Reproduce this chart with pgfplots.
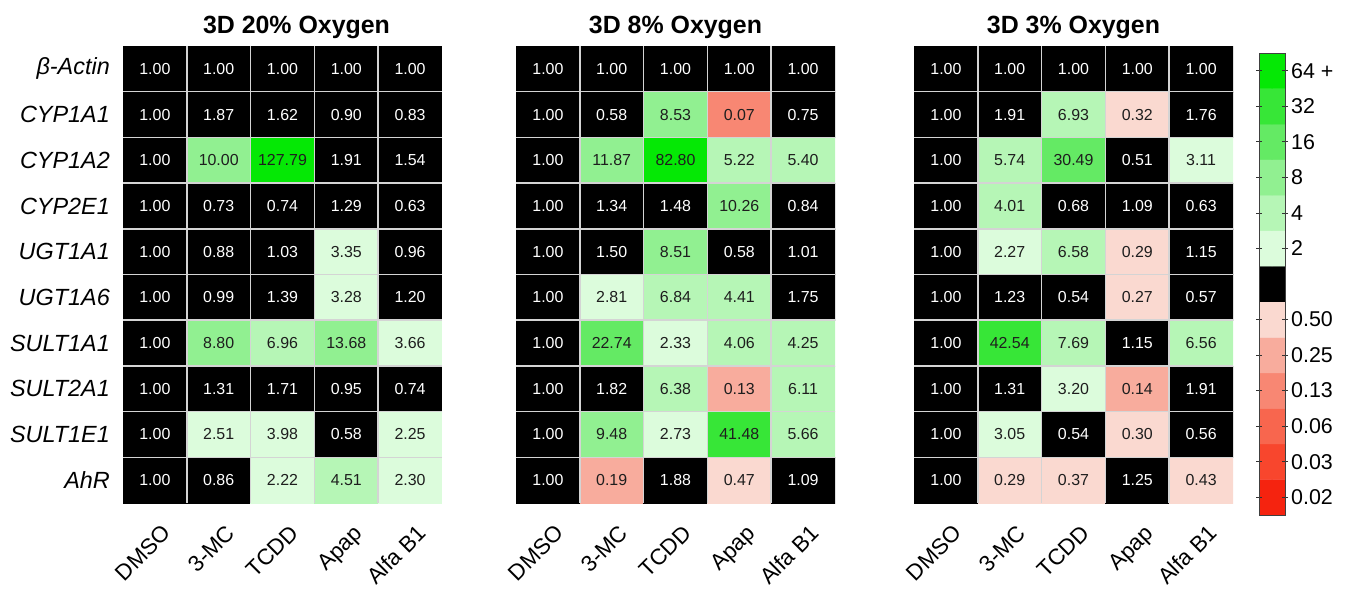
\documentclass[border=0pt]{standalone}
\usepackage{pgfplots}
\pgfplotsset{compat=1.18}
\usepackage{pgfplotstable}
\usepackage{fontspec}
\setmainfont{Liberation Sans}
\definecolor{gridc}{RGB}{212,212,212}
\definecolor{txtd}{RGB}{30,30,30}

% x = treatment (0 DMSO,1 3-MC,2 TCDD,3 Apap,4 Alfa B1), y = gene row (0 = beta-Actin ... 9 = AhR)
\pgfplotstableread{
x y v
0 0 1.00
1 0 1.00
2 0 1.00
3 0 1.00
4 0 1.00
0 1 1.00
1 1 1.87
2 1 1.62
3 1 0.90
4 1 0.83
0 2 1.00
1 2 10.00
2 2 127.79
3 2 1.91
4 2 1.54
0 3 1.00
1 3 0.73
2 3 0.74
3 3 1.29
4 3 0.63
0 4 1.00
1 4 0.88
2 4 1.03
3 4 3.35
4 4 0.96
0 5 1.00
1 5 0.99
2 5 1.39
3 5 3.28
4 5 1.20
0 6 1.00
1 6 8.80
2 6 6.96
3 6 13.68
4 6 3.66
0 7 1.00
1 7 1.31
2 7 1.71
3 7 0.95
4 7 0.74
0 8 1.00
1 8 2.51
2 8 3.98
3 8 0.58
4 8 2.25
0 9 1.00
1 9 0.86
2 9 2.22
3 9 4.51
4 9 2.30
}\dA

\pgfplotstableread{
x y v
0 0 1.00
1 0 1.00
2 0 1.00
3 0 1.00
4 0 1.00
0 1 1.00
1 1 0.58
2 1 8.53
3 1 0.07
4 1 0.75
0 2 1.00
1 2 11.87
2 2 82.80
3 2 5.22
4 2 5.40
0 3 1.00
1 3 1.34
2 3 1.48
3 3 10.26
4 3 0.84
0 4 1.00
1 4 1.50
2 4 8.51
3 4 0.58
4 4 1.01
0 5 1.00
1 5 2.81
2 5 6.84
3 5 4.41
4 5 1.75
0 6 1.00
1 6 22.74
2 6 2.33
3 6 4.06
4 6 4.25
0 7 1.00
1 7 1.82
2 7 6.38
3 7 0.13
4 7 6.11
0 8 1.00
1 8 9.48
2 8 2.73
3 8 41.48
4 8 5.66
0 9 1.00
1 9 0.19
2 9 1.88
3 9 0.47
4 9 1.09
}\dB

\pgfplotstableread{
x y v
0 0 1.00
1 0 1.00
2 0 1.00
3 0 1.00
4 0 1.00
0 1 1.00
1 1 1.91
2 1 6.93
3 1 0.32
4 1 1.76
0 2 1.00
1 2 5.74
2 2 30.49
3 2 0.51
4 2 3.11
0 3 1.00
1 3 4.01
2 3 0.68
3 3 1.09
4 3 0.63
0 4 1.00
1 4 2.27
2 4 6.58
3 4 0.29
4 4 1.15
0 5 1.00
1 5 1.23
2 5 0.54
3 5 0.27
4 5 0.57
0 6 1.00
1 6 42.54
2 6 7.69
3 6 1.15
4 6 6.56
0 7 1.00
1 7 1.31
2 7 3.20
3 7 0.14
4 7 1.91
0 8 1.00
1 8 3.05
2 8 0.54
3 8 0.30
4 8 0.56
0 9 1.00
1 9 0.29
2 9 0.37
3 9 1.25
4 9 0.43
}\dC

% colour bar bands: y position, colour index
\pgfplotstableread{
x y c
0 0 0
1 0 0
0 1 1
1 1 1
0 2 2
1 2 2
0 3 3
1 3 3
0 4 4
1 4 4
0 5 5
1 5 5
0 6 6
1 6 6
0 7 8
1 7 8
0 8 9
1 8 9
0 9 10
1 9 10
0 10 11
1 10 11
0 11 12
1 11 12
0 12 13
1 12 13
}\cb

\newcommand\celltxt{\ifdim\pgfplotspointmeta pt<2pt\relax\ifdim\pgfplotspointmeta pt<0.5pt\relax\color{txtd}\else\color{white}\fi\else\color{txtd}\fi\pgfplotspointmeta}

\pgfplotsset{
  colormap={hm}{
    rgb255=(245,35,15) rgb255=(248,70,45) rgb255=(248,102,78) rgb255=(248,135,115) rgb255=(248,172,157) rgb255=(250,217,208)
    rgb255=(0,0,0) rgb255=(0,0,0)
    rgb255=(220,252,220) rgb255=(182,246,182) rgb255=(145,240,145) rgb255=(100,234,100) rgb255=(55,230,55) rgb255=(5,232,5)
  },
  hmaxis/.style={
    scale only axis, width=319bp, height=457bp, anchor=north west,
    xmin=-0.5, xmax=4.5, ymin=-0.5, ymax=9.5, y dir=reverse,
    axis line style={draw=none}, major tick length=0pt, minor tick length=0pt,
    xtick={0,...,4}, xticklabels={DMSO,3-MC,TCDD,Apap,Alfa B1},
    xticklabel style={xshift=6bp, yshift=-20bp, rotate=45, anchor=north east, inner sep=0pt,
      text height=16bp, text depth=4bp, font=\fontsize{22.5}{23}\selectfont},
    ytick={0,...,9},
    yticklabel style={anchor=east, inner sep=0pt, xshift=-13bp, font=\itshape\fontsize{23.5}{24}\selectfont},
    minor xtick={0.5,1.5,2.5,3.5}, minor ytick={0.5,1.5,...,8.5},
    xminorgrids, yminorgrids, minor grid style={gridc, line width=1.5bp},
    axis on top,
    colormap name=hm, colormap access=direct,
    every axis title/.style={at={(0.5,1)}, anchor=base, yshift=13bp, font=\bfseries\fontsize{25}{26}\selectfont},
  },
  heat/.style={matrix plot*, mesh/cols=5,
    point meta={min(13,max(0,floor(ln(\thisrow{v})/ln(2))+7))}},
  vals/.style={only marks, mark=none, point meta=explicit symbolic,
    nodes near coords={\celltxt}, nodes near coords align=center,
    every node near coord/.append style={font=\fontsize{16}{16}\selectfont, anchor=center, inner sep=0pt}},
}

\begin{document}
\begin{tikzpicture}
\path[use as bounding box] (0,0) rectangle (1356bp,-591bp);

\begin{axis}[hmaxis, at={(123bp,-46bp)}, title={3D 20\% Oxygen}, title style={xshift=14bp},
  yticklabels={β-Actin,CYP1A1,CYP1A2,CYP2E1,UGT1A1,UGT1A6,SULT1A1,SULT2A1,SULT1E1,AhR}]
\addplot[heat] table[x=x,y=y] {\dA};
\addplot[vals] table[x=x,y=y,meta=v] {\dA};
\end{axis}

\begin{axis}[hmaxis, at={(516bp,-46bp)}, title={3D 8\% Oxygen}, yticklabels={}]
\addplot[heat] table[x=x,y=y] {\dB};
\addplot[vals] table[x=x,y=y,meta=v] {\dB};
\end{axis}

\begin{axis}[hmaxis, at={(914bp,-46bp)}, title={3D 3\% Oxygen}, yticklabels={}]
\addplot[heat] table[x=x,y=y] {\dC};
\addplot[vals] table[x=x,y=y,meta=v] {\dC};
\end{axis}

\begin{axis}[at={(1259bp,-53bp)}, anchor=north west, scale only axis, width=26bp, height=462bp,
  xmin=-0.5, xmax=1.5, ymin=-0.5, ymax=12.5, xtick=\empty,
  ytick={0,1,2,3,4,5,7,8,9,10,11,12},
  yticklabels={0.02,0.03,0.06,0.13,0.25,0.50,2,4,8,16,32,64 +},
  yticklabel pos=right, ytick pos=both, tick align=center, major tick length=6bp,
  tick style={black!80, line width=0.8bp}, axis line style={black!75, line width=1bp},
  yticklabel style={anchor=west, inner sep=0pt, xshift=3bp, font=\fontsize{21.5}{22}\selectfont},
  axis on top, colormap name=hm, colormap access=direct]
\addplot[matrix plot*, mesh/cols=2, point meta=explicit] table[x=x,y=y,meta=c] {\cb};
\end{axis}
\end{tikzpicture}
\end{document}
